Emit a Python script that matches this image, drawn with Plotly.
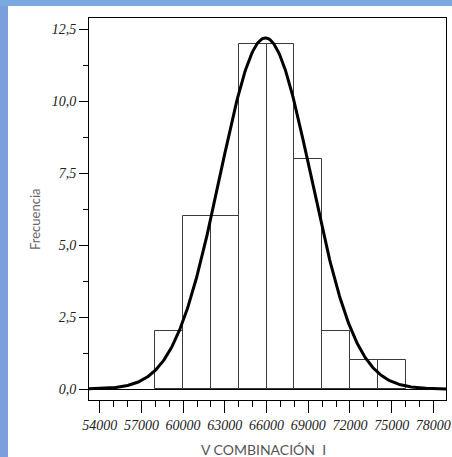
import numpy as np
import plotly.graph_objects as go

# ---- data ----
bin_left_edges = [58000, 60000, 62000, 64000, 66000, 68000, 70000, 72000, 74000]
bin_width = 2000
frequencies = [2, 6, 6, 12, 12, 8, 2, 1, 1]
fit_mean = 65920
fit_sd = 3270
n_total = sum(frequencies)
y_tick_vals = [0, 2.5, 5, 7.5, 10, 12.5]
y_tick_text = ["0,0", "2,5", "5,0", "7,5", "10,0", "12,5"]
x_tick_vals = [54000, 57000, 60000, 63000, 66000, 69000, 72000, 75000, 78000]
x_tick_text = [str(v) for v in x_tick_vals]
x_title = "V COMBINACIÓN  I"
y_title = "Frecuencia"

x_range = [53230, 78910]
y_range = [-0.382, 12.893]

W, H = 452, 457
L, R, T, B = 89, 6, 18, 57
pw, ph = W - L - R, H - T - B

def px_x(p):
    return (p - L) / pw

def px_y(p):
    return (H - B - p) / ph

centers = [e + bin_width / 2 for e in bin_left_edges]

xs = np.linspace(x_range[0], x_range[1], 400)
ys = n_total * bin_width / (fit_sd * np.sqrt(2 * np.pi)) * np.exp(-0.5 * ((xs - fit_mean) / fit_sd) ** 2)

fig = go.Figure()
fig.add_trace(go.Bar(
    x=centers, y=frequencies, width=bin_width,
    marker=dict(color="white", line=dict(color="#3a3a3a", width=1)),
    hoverinfo="skip",
))
fig.add_trace(go.Scatter(
    x=xs, y=ys, mode="lines",
    line=dict(color="black", width=3),
    hoverinfo="skip",
))

serif_it = dict(family="Liberation Serif", size=14, color="#222222", style="italic")

fig.update_layout(
    width=W, height=H,
    autosize=False,
    margin=dict(l=L, r=R, t=T, b=B, autoexpand=False),
    paper_bgcolor="white", plot_bgcolor="white",
    showlegend=False,
    bargap=0,
    xaxis=dict(
        range=x_range, showgrid=False, zeroline=False, automargin=False,
        showline=True, linecolor="black", linewidth=1, mirror=True,
        tickmode="array", tickvals=x_tick_vals, ticktext=x_tick_text,
        ticks="outside", ticklen=12, tickwidth=1, tickcolor="black",
        tickfont=serif_it,
        minor=dict(dtick=1000, tick0=54000, ticks="outside", ticklen=6, tickwidth=1,
                   tickcolor="black", showgrid=False),
    ),
    yaxis=dict(
        range=y_range, showgrid=False, automargin=False,
        zeroline=True, zerolinecolor="black", zerolinewidth=1,
        showline=True, linecolor="black", linewidth=1, mirror=True,
        tickmode="array", tickvals=y_tick_vals, ticktext=y_tick_text,
        ticks="outside", ticklen=9, tickwidth=1, tickcolor="black",
        tickfont=serif_it,
        minor=dict(dtick=1.25, tick0=0, ticks="outside", ticklen=5, tickwidth=1,
                   tickcolor="black", showgrid=False),
    ),
    annotations=[
        dict(text=x_title, xref="paper", yref="paper", x=px_x(263), y=px_y(449),
             xanchor="center", yanchor="middle", showarrow=False,
             font=dict(family="Lato", size=14, color="#555555")),
        dict(text=y_title, xref="paper", yref="paper", x=px_x(35), y=px_y(220),
             xanchor="center", yanchor="middle", showarrow=False, textangle=-90,
             font=dict(family="Lato", size=13, color="#666666")),
    ],
    shapes=[
        dict(type="rect", xref="paper", yref="paper", layer="above",
             x0=px_x(0), x1=px_x(8), y0=px_y(H), y1=px_y(0),
             fillcolor="#7b9fdb", line=dict(width=0)),
        dict(type="rect", xref="paper", yref="paper", layer="above",
             x0=px_x(0), x1=px_x(W), y0=px_y(6), y1=px_y(0),
             fillcolor="#7aa9de", line=dict(width=0)),
    ],
)

fig.write_html(
    "out.html",
    config={"displayModeBar": False},
    post_script="document.body.style.margin='0';document.body.style.overflow='hidden';",
)
